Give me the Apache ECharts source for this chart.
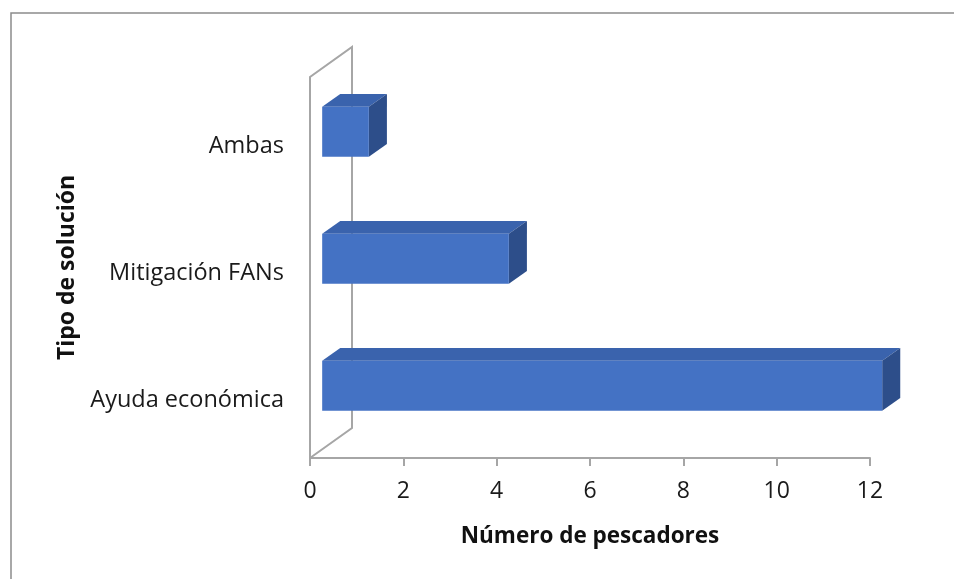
<!DOCTYPE html>
<html>
<head>
<meta charset="utf-8">
<script src="https://cdn.jsdelivr.net/npm/echarts@6/dist/echarts.min.js"></script>
<style>html,body{margin:0;padding:0;background:#fff}#c{width:954px;height:579px}</style>
</head>
<body>
<div id="c"></div>
<script>
// Data
var categories = ['Ayuda económica', 'Mitigación FANs', 'Ambas'];
var values = [12, 4, 1];
var xTicks = [0, 2, 4, 6, 8, 10, 12];
var xTitle = 'Número de pescadores';
var yTitle = 'Tipo de solución';

// 3D look (style only)
var DEPTH_X = 42, DEPTH_Y = -30;
var BAR_FRONT = 0.29, BAR_DEPTH = 0.43, BAR_SIZE = 0.394;
var FONT = 'Open Sans';

var chart = echarts.init(document.getElementById('c'), null, {renderer: 'canvas'});

function renderWalls(params, api) {
  var cs = params.coordSys;
  var x0 = cs.x, y0 = cs.y, h = cs.height;
  return {
    type: 'polyline',
    shape: {points: [
      [x0, y0 + h], [x0, y0], [x0 + DEPTH_X, y0 + DEPTH_Y],
      [x0 + DEPTH_X, y0 + h + DEPTH_Y], [x0, y0 + h]
    ]},
    style: {stroke: '#A6A6A6', lineWidth: 2, fill: null},
    silent: true
  };
}

function renderBar(params, api) {
  var cat = api.value(1);
  var start = api.coord([0, cat]);
  var end = api.coord([api.value(0), cat]);
  var band = api.size([0, 1])[1];
  var bh = band * BAR_SIZE;
  var ox = DEPTH_X * BAR_FRONT, oy = DEPTH_Y * BAR_FRONT;
  var dx = DEPTH_X * BAR_DEPTH, dy = DEPTH_Y * BAR_DEPTH;
  var xL = start[0] + ox, xR = end[0] + ox;
  var yT = start[1] + oy - bh / 2, yB = start[1] + oy + bh / 2;
  return {
    type: 'group',
    children: [
      {type: 'polygon', shape: {points: [[xL, yT], [xR, yT], [xR + dx, yT + dy], [xL + dx, yT + dy]]},
        style: {fill: '#3A63AD'}},
      {type: 'polygon', shape: {points: [[xR, yT], [xR + dx, yT + dy], [xR + dx, yB + dy], [xR, yB]]},
        style: {fill: '#2D4E8A'}},
      {type: 'rect', shape: {x: xL, y: yT, width: xR - xL, height: yB - yT},
        style: {fill: '#4472C4'}}
    ]
  };
}

var barData = values.map(function (v, i) { return [v, i]; });

chart.setOption({
  animation: false,
  textStyle: {fontFamily: FONT},
  grid: {left: 310, right: 84, top: 77, bottom: 121},
  graphic: [{
    type: 'rect', left: 8.5, top: 10.5, z: -10,
    shape: {x: 0, y: 0, width: 1000, height: 700},
    style: {fill: null, stroke: '#8C8C8C', lineWidth: 1.5}
  }],
  xAxis: {
    type: 'value', min: xTicks[0], max: xTicks[xTicks.length - 1], interval: 2,
    axisLine: {show: true, lineStyle: {color: '#A6A6A6', width: 2}},
    axisTick: {show: true, length: 8, lineStyle: {color: '#A6A6A6', width: 2}},
    splitLine: {show: false},
    axisLabel: {fontFamily: FONT, fontSize: 23, color: '#1a1a1a', margin: 22},
    name: xTitle, nameLocation: 'middle', nameGap: 67,
    nameTextStyle: {fontFamily: FONT, fontSize: 22.5, fontWeight: 'bold', color: '#111'}
  },
  yAxis: {
    type: 'category', data: categories,
    axisLine: {show: false}, axisTick: {show: false}, splitLine: {show: false},
    axisLabel: {
      margin: 26, formatter: '{a|{value}}',
      rich: {a: {fontFamily: FONT, fontSize: 23.5, color: '#1a1a1a', padding: [12, 0, 0, 0]}}
    },
    name: yTitle, nameLocation: 'middle', nameGap: 230, nameRotate: 90,
    nameTextStyle: {fontFamily: FONT, fontSize: 23, fontWeight: 'bold', color: '#111'}
  },
  series: [
    {type: 'custom', renderItem: renderWalls, data: [[0, 0]], z: 1, silent: true,
      encode: {x: 0, y: 1}},
    {type: 'custom', renderItem: renderBar, data: barData, z: 2,
      encode: {x: 0, y: 1}}
  ]
});
</script>
</body>
</html>
